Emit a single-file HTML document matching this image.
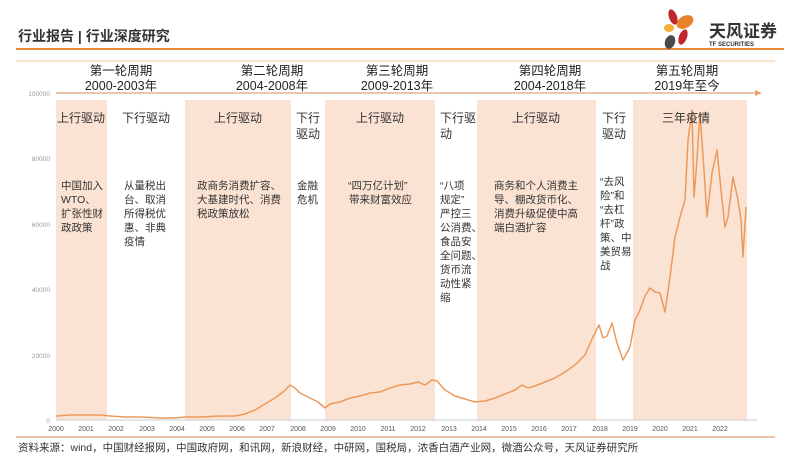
<!DOCTYPE html>
<html><head><meta charset="utf-8"><style>
body{margin:0;background:#fff;font-family:"Liberation Sans","Noto Sans CJK SC",sans-serif;}
svg text{font-family:"Liberation Sans","Noto Sans CJK SC",sans-serif;}
</style></head><body>
<svg width="800" height="462" viewBox="0 0 800 462" xmlns="http://www.w3.org/2000/svg">
<!-- header -->
<text x="18" y="41" font-size="14" font-weight="bold" fill="#333">行业报告 | 行业深度研究</text>
<line x1="16" y1="49" x2="784" y2="49" stroke="#e8883a" stroke-width="2"/>
<line x1="16" y1="61" x2="775" y2="61" stroke="#f3c9a4" stroke-width="1"/>
<!-- logo -->
<ellipse cx="673" cy="17" rx="4" ry="8" fill="#c0272d" transform="rotate(-20 673 17)"/>
<ellipse cx="685" cy="22" rx="9" ry="6" fill="#e8832a" transform="rotate(-30 685 22)"/>
<ellipse cx="669" cy="28" rx="5" ry="4" fill="#f2b134"/>
<ellipse cx="683" cy="37" rx="4" ry="8" fill="#c0272d" transform="rotate(20 683 37)"/>
<ellipse cx="670" cy="42" rx="5" ry="7" fill="#4a4a4a" transform="rotate(20 670 42)"/>
<text x="709" y="37" font-size="17" font-weight="bold" fill="#333">天风证券</text>
<text x="709" y="46" font-size="6" font-weight="bold" fill="#333">TF SECURITIES</text>
<!-- bands -->
<g fill="#fbe3d3">
<rect x="56" y="100" width="51" height="320"/>
<rect x="185" y="100" width="106" height="320"/>
<rect x="325" y="100" width="110" height="320"/>
<rect x="477" y="100" width="119" height="320"/>
<rect x="633" y="100" width="114" height="320"/>
</g>
<!-- arrow -->
<line x1="56" y1="93" x2="757" y2="93" stroke="#e8a070" stroke-width="1.2"/>
<polygon points="762,93 755,90 755,96" fill="#e8a070"/>
<!-- period titles -->
<g font-size="12.5" fill="#222" text-anchor="middle">
<text x="121" y="75">第一轮周期</text><text x="121" y="90">2000-2003年</text>
<text x="272" y="75">第二轮周期</text><text x="272" y="90">2004-2008年</text>
<text x="397" y="75">第三轮周期</text><text x="397" y="90">2009-2013年</text>
<text x="550" y="75">第四轮周期</text><text x="550" y="90">2004-2018年</text>
<text x="687" y="75">第五轮周期</text><text x="687" y="90">2019年至今</text>
</g>
<!-- y axis -->
<g font-size="6.5" fill="#999" text-anchor="end">
<text x="50" y="96">100000</text><text x="50" y="161">80000</text><text x="50" y="227">60000</text>
<text x="50" y="292">40000</text><text x="50" y="358">20000</text><text x="50" y="423">0</text>
</g>
<line x1="56" y1="420" x2="757" y2="420" stroke="#ccc" stroke-width="1"/>
<g font-size="7" fill="#555" text-anchor="middle">
<text x="56" y="431">2000</text><text x="86" y="431">2001</text><text x="116" y="431">2002</text><text x="147" y="431">2003</text><text x="177" y="431">2004</text><text x="207" y="431">2005</text><text x="237" y="431">2006</text><text x="267" y="431">2007</text><text x="298" y="431">2008</text><text x="328" y="431">2009</text><text x="358" y="431">2010</text><text x="388" y="431">2011</text><text x="418" y="431">2012</text><text x="449" y="431">2013</text><text x="479" y="431">2014</text><text x="509" y="431">2015</text><text x="539" y="431">2016</text><text x="569" y="431">2017</text><text x="600" y="431">2018</text><text x="630" y="431">2019</text><text x="660" y="431">2020</text><text x="690" y="431">2021</text><text x="720" y="431">2022</text>
</g>
<!-- series -->
<polyline fill="none" stroke="#ec9a5c" stroke-width="1.5" stroke-linejoin="round" points="
56,416 70,415 86,415 100,415 110,416 125,417 140,417 160,418 175,418 185,417 200,417 220,416 235,416 245,414 255,410 265,404 275,398 283,392 290,385 295,388 300,393 310,398 318,402 325,408 330,404 340,402 350,398 360,396 370,393 380,392 390,388 400,385 410,384 418,382 425,385 432,380 437,381 445,390 455,396 465,399 475,402 485,401 495,398 505,394 515,390 522,385 528,388 535,386 545,382 555,378 565,372 575,365 585,355 593,337 599,325 603,338 607,336 612,323 617,343 623,360 630,347 635,320 640,310 645,296 650,288 655,292 660,293 665,312 670,277 675,237 680,217 685,200 688,140 692,110 694,197 697,160 700,113 704,170 707,217 712,173 717,150 721,190 725,227 728,217 733,177 738,200 741,220 743,257 746,207"/>
<!-- band text -->
<g font-size="12" fill="#333" text-anchor="middle">
<text x="81" y="122">上行驱动</text>
<text x="146" y="122">下行驱动</text>
<text x="238" y="122">上行驱动</text>
<text x="308" y="122">下行</text><text x="308" y="138">驱动</text>
<text x="380" y="122">上行驱动</text>
<text x="458" y="122">下行驱</text><text x="446" y="138">动</text>
<text x="536" y="122">上行驱动</text>
<text x="614" y="122">下行</text><text x="614" y="138">驱动</text>
<text x="686" y="122">三年疫情</text>
</g>
<g font-size="10.5" fill="#333">
<text x="61" y="189">中国加入</text><text x="61" y="203">WTO、</text><text x="61" y="217">扩张性财</text><text x="61" y="231">政政策</text>
<text x="124" y="189">从量税出</text><text x="124" y="203">台、取消</text><text x="124" y="217">所得税优</text><text x="124" y="231">惠、非典</text><text x="124" y="245">疫情</text>
<text x="197" y="189">政商务消费扩容、</text><text x="197" y="203">大基建时代、消费</text><text x="197" y="217">税政策放松</text>
<text x="297" y="189">金融</text><text x="297" y="203">危机</text>
<text x="348" y="189">“四万亿计划”</text><text x="349" y="203">带来财富效应</text>
<text x="440" y="189">“八项</text><text x="440" y="203">规定”</text><text x="440" y="217">严控三</text><text x="440" y="231">公消费、</text><text x="440" y="245">食品安</text><text x="440" y="259">全问题、</text><text x="440" y="273">货币流</text><text x="440" y="287">动性紧</text><text x="440" y="301">缩</text>
<text x="494" y="189">商务和个人消费主</text><text x="494" y="203">导、棚改货币化、</text><text x="494" y="217">消费升级促使中高</text><text x="494" y="231">端白酒扩容</text>
<text x="600" y="185">“去风</text><text x="600" y="199">险”和</text><text x="600" y="213">“去杠</text><text x="600" y="227">杆”政</text><text x="600" y="241">策、中</text><text x="600" y="255">美贸易</text><text x="600" y="269">战</text>
</g>
<!-- footer -->
<line x1="16" y1="437" x2="775" y2="437" stroke="#e8a070" stroke-width="1.2"/>
<text x="18" y="451" font-size="10.5" fill="#333">资料来源：wind，中国财经报网，中国政府网，和讯网，新浪财经，中研网，国税局，浓香白酒产业网，微酒公众号，天风证券研究所</text>
</svg>
</body></html>
